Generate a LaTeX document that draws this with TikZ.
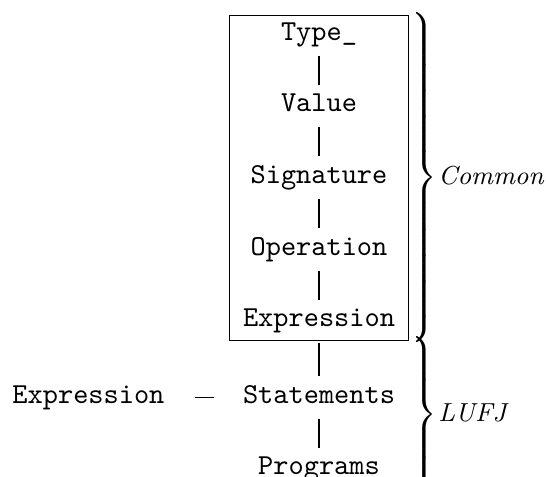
\documentclass[tikz,border=0pt]{standalone}
\usetikzlibrary{fit}
\delimiterfactor=1000
\delimitershortfall=0pt
\tikzset{lbl/.style={font=\ttfamily, text height=6.2pt, text depth=2.2pt, inner xsep=3.33pt, inner ysep=3pt, anchor=base}}
\begin{document}
\begin{tikzpicture}
  \def\sc{0.871}   % row spacing
  \def\cx{3.873}   % x of the main column
  \def\yt{-0.486}  % baseline of the first row
  \useasboundingbox (0,0) rectangle (6.629,-5.791);
  \foreach \n/\t [count=\i from 0] in {ty/Type\_,va/Value,si/Signature,op/Operation,ex/Expression} { \node[lbl] (\n) at (\cx,\yt-\i*\sc) {\t}; }
  \node[lbl] (st) at (\cx,-4.893) {Statements};
  \node[lbl] (pr) at (\cx,-5.767) {Programs};
  \node[lbl] (lx) at (1.074,-4.893) {Expression};
  \foreach \a/\b in {ty/va,va/si,si/op,op/ex,ex/st,st/pr} { \draw (\a) -- (\b); }
  \draw[shorten <=7pt, shorten >=6.6pt] (lx) -- (st);
  \node[draw, fit=(ty)(ex), inner xsep=1.2pt, inner ysep=-0.8pt] (box) {};
  % braces on the right
  \node[anchor=base west, inner sep=0] (cb) at (4.95,-2.246) {$\left.\vcenter{\hbox{\rule{0pt}{112pt}}}\right\}$\hspace{0.3pt}{\small\itshape Common}};
  \node[anchor=base west, inner sep=0] (lb) at (4.95,-5.120) {$\left.\vcenter{\hbox{\rule{0pt}{49pt}}}\right\}$\hspace{0.3pt}{\small\itshape LUFJ}};
\end{tikzpicture}
\end{document}
